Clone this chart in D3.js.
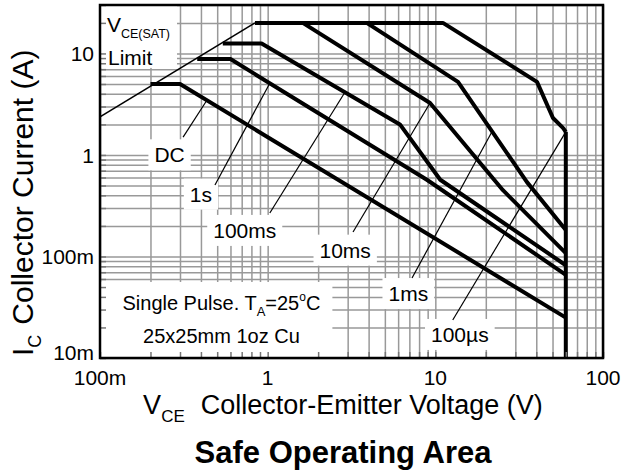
<!DOCTYPE html>
<html>
<head>
<meta charset="utf-8">
<script src="https://cdn.jsdelivr.net/npm/d3@7"></script>
<style>
  body { margin: 0; background: #fff; }
  text { font-family: "Liberation Sans", Arial, sans-serif; fill: #000; }
</style>
</head>
<body>
<div id="chart"></div>
<script>
// axis ranges and tick labels
const xDomain = [0.1, 100];
const yDomain = [0.01, 30];
const xTickValues = [0.1, 1, 10, 100];
const xTickLabels = ["100m", "1", "10", "100"];
const yTickValues = [0.01, 0.1, 1, 10];
const yTickLabels = ["10m", "100m", "1", "10"];

// VCE(SAT) limit line, [V, A]
const vceSatLimit = [[0.1, 2.37], [0.84, 20]];

// SOA boundary for each pulse width, [V, A]
const curveNames = ["DC", "1s", "100ms", "10ms", "1ms", "100\u00b5s"];
const dcCurve = [[0.2, 5], [0.3, 5], [60, 0.025]];
const s1Curve = [[0.38, 8.8], [0.6, 8.8], [8.9, 0.57], [60, 0.066]];
const ms100Curve = [[0.54, 12.5], [0.92, 12.5], [6.15, 2.0], [10.7, 0.57], [60, 0.082]];
const ms10Curve = [[0.84, 20], [1.62, 20], [9.3, 3.25], [25.3, 0.45], [60, 0.108]];
const ms1Curve = [[1.62, 20], [3.9, 20], [13.65, 5.24], [35.2, 0.54], [60, 0.182]];
const us100Curve = [[3.9, 20], [11.1, 20], [40.4, 5.24], [50.3, 2.31], [57.7, 1.85], [60, 1.69]];
const bvLimit = [[60, 1.69], [60, 0.01]];

// curve labels: text centre, leader start [V, A], and V where the leader meets its curve
const labelPos = [[0.26, 1.0], [0.4, 0.41], [0.73, 0.18], [2.9, 0.115], [6.9, 0.043], [14, 0.017]];
const leaderStart = [[0.313, 1.5], [0.485, 0.506], [1.03, 0.268], [3.23, 0.174], [7.26, 0.0614], [12.7, 0.0237]];
const leaderEndV = [0.434, 1.03, 2.89, 9.3, 21.8, 60];

// notes, [V, A] of text anchor
const vceSatPos = [0.11, 16.3];
const limitPos = [0.1116, 7.7];
const notePos1 = [0.53, 0.0297];
const notePos2 = [0.53, 0.0141];

const curves = [dcCurve, s1Curve, ms100Curve, ms10Curve, ms1Curve, us100Curve];

const margin = { top: 5, right: 21, bottom: 117, left: 100 };
const width = 624 - margin.left - margin.right;
const height = 475 - margin.top - margin.bottom;

const svg = d3.select("#chart")
    .append("svg")
    .attr("width", 624)
    .attr("height", 475);

const g = svg.append("g")
    .attr("transform", `translate(${margin.left}, ${margin.top})`);

const x = d3.scaleLog().domain(xDomain).range([0, width]);
const y = d3.scaleLog().domain(yDomain).range([height, 0]);

const gridLayer = g.append("g");
const boxLayer = g.append("g");
const curveLayer = g.append("g");
const textLayer = g.append("g");
const axisLayer = g.append("g");

// grid lines
gridLayer.append("g")
    .attr("transform", `translate(0, ${height})`)
    .call(d3.axisBottom(x).tickValues(x.ticks()).tickSize(-height).tickFormat(""))
    .call(a => a.select(".domain").remove())
    .selectAll("line")
    .attr("stroke", "#999")
    .attr("stroke-width", 1.5);

gridLayer.append("g")
    .call(d3.axisLeft(y).tickValues(y.ticks()).tickSize(-width).tickFormat(""))
    .call(a => a.select(".domain").remove())
    .selectAll("line")
    .attr("stroke", "#999")
    .attr("stroke-width", 1.5);

const line = d3.line().x(d => x(d[0])).y(d => y(d[1]));

// curves
curveLayer.append("path")
    .attr("d", line(vceSatLimit))
    .attr("fill", "none")
    .attr("stroke", "#000")
    .attr("stroke-width", 1.6);

curveLayer.selectAll(".soa")
    .data(curves.concat([bvLimit]))
    .enter()
    .append("path")
    .attr("class", "soa")
    .attr("d", d => line(d))
    .attr("fill", "none")
    .attr("stroke", "#000")
    .attr("stroke-width", 4)
    .attr("stroke-linejoin", "round");

// current on a curve at voltage v (log-log interpolation)
function currentAt(curve, v) {
    for (let i = 0; i < curve.length - 1; i++) {
        const a = curve[i], b = curve[i + 1];
        if (v >= a[0] && v <= b[0]) {
            const t = (Math.log(v) - Math.log(a[0])) / (Math.log(b[0]) - Math.log(a[0]) || 1);
            return Math.exp(Math.log(a[1]) + t * (Math.log(b[1]) - Math.log(a[1])));
        }
    }
    return curve[curve.length - 1][1];
}

// leaders
curveLayer.selectAll(".leader")
    .data(curveNames)
    .enter()
    .append("line")
    .attr("class", "leader")
    .attr("x1", (d, i) => x(leaderStart[i][0]))
    .attr("y1", (d, i) => y(leaderStart[i][1]))
    .attr("x2", (d, i) => x(leaderEndV[i]))
    .attr("y2", (d, i) => y(currentAt(curves[i], leaderEndV[i])))
    .attr("stroke", "#000")
    .attr("stroke-width", 1.2);

// curve labels with white backgrounds
const labels = textLayer.selectAll(".lbl")
    .data(curveNames)
    .enter()
    .append("text")
    .attr("class", "lbl")
    .attr("x", (d, i) => x(labelPos[i][0]))
    .attr("y", (d, i) => y(labelPos[i][1]))
    .attr("dy", "0.35em")
    .attr("text-anchor", "middle")
    .style("font-size", "21px")
    .text(d => d);

labels.each(function() {
    const b = this.getBBox();
    boxLayer.append("rect")
        .attr("x", b.x - 6).attr("y", b.y - 4)
        .attr("width", b.width + 12).attr("height", b.height + 8)
        .attr("fill", "#fff");
});

// VCE(SAT) Limit note
const vs = textLayer.append("text")
    .attr("x", x(vceSatPos[0]))
    .attr("y", y(vceSatPos[1]))
    .style("font-size", "21px")
    .text("V");
vs.append("tspan").attr("dy", 6).style("font-size", "12.5px").text("CE(SAT)");
textLayer.append("text")
    .attr("x", x(limitPos[0]))
    .attr("y", y(limitPos[1]))
    .style("font-size", "21px")
    .text("Limit");
boxLayer.append("rect")
    .attr("x", 0).attr("y", 0)
    .attr("width", x(0.3) - 3).attr("height", y(7.2))
    .attr("fill", "#fff");

// test conditions note
const n1 = textLayer.append("text")
    .attr("x", x(notePos1[0]))
    .attr("y", y(notePos1[1]))
    .attr("text-anchor", "middle")
    .style("font-size", "20px")
    .text("Single Pulse. T");
n1.append("tspan").attr("dy", 6).style("font-size", "13px").text("A");
n1.append("tspan").attr("dy", -6).text("=25");
n1.append("tspan").attr("dy", -9).style("font-size", "12px").text("o");
n1.append("tspan").attr("dy", 9).text("C");
const n2 = textLayer.append("text")
    .attr("x", x(notePos2[0]))
    .attr("y", y(notePos2[1]))
    .attr("text-anchor", "middle")
    .style("font-size", "20px")
    .text("25x25mm 1oz Cu");
const nb1 = n1.node().getBBox();
boxLayer.append("rect")
    .attr("x", 0).attr("y", nb1.y - 8)
    .attr("width", nb1.x + nb1.width + 12).attr("height", height - nb1.y + 8)
    .attr("fill", "#fff");

// axes with inward ticks
axisLayer.append("g")
    .attr("transform", `translate(0, ${height})`)
    .call(d3.axisBottom(x).tickValues(x.ticks()).tickSize(-6).tickFormat(""))
    .selectAll("line").attr("stroke", "#777").attr("stroke-width", 1.5);
axisLayer.append("g")
    .call(d3.axisLeft(y).tickValues(y.ticks()).tickSize(-6).tickFormat(""))
    .selectAll("line").attr("stroke", "#777").attr("stroke-width", 1.5);
axisLayer.selectAll(".domain").remove();

axisLayer.append("rect")
    .attr("width", width).attr("height", height)
    .attr("fill", "none")
    .attr("stroke", "#000")
    .attr("stroke-width", 2.5);

// tick labels
axisLayer.selectAll(".xl")
    .data(xTickValues)
    .enter()
    .append("text")
    .attr("x", d => x(d))
    .attr("y", height + 27)
    .attr("text-anchor", "middle")
    .style("font-size", "21px")
    .text((d, i) => xTickLabels[i]);

axisLayer.selectAll(".yl")
    .data(yTickValues)
    .enter()
    .append("text")
    .attr("x", -6)
    .attr("y", d => Math.min(y(d), height - 6))
    .attr("dy", "0.36em")
    .attr("text-anchor", "end")
    .style("font-size", "21px")
    .text((d, i) => yTickLabels[i]);

// axis titles
const xt = svg.append("text")
    .attr("x", 343)
    .attr("y", 414)
    .attr("text-anchor", "middle")
    .style("font-size", "27px")
    .text("V");
xt.append("tspan").attr("dy", 8).style("font-size", "17px").text("CE");
xt.append("tspan").attr("dy", -8).attr("dx", 16).text("Collector-Emitter Voltage (V)");

const yt = svg.append("text")
    .attr("transform", "translate(33, 356) rotate(-90)")
    .style("font-size", "30px")
    .text("I");
yt.append("tspan").attr("dy", 8).style("font-size", "18px").text("C");
yt.append("tspan").attr("dy", -8).attr("dx", 10).text("Collector Current (A)");

svg.append("text")
    .attr("x", 343)
    .attr("y", 463)
    .attr("text-anchor", "middle")
    .style("font-size", "31px")
    .style("font-weight", "bold")
    .text("Safe Operating Area");
</script>
</body>
</html>
